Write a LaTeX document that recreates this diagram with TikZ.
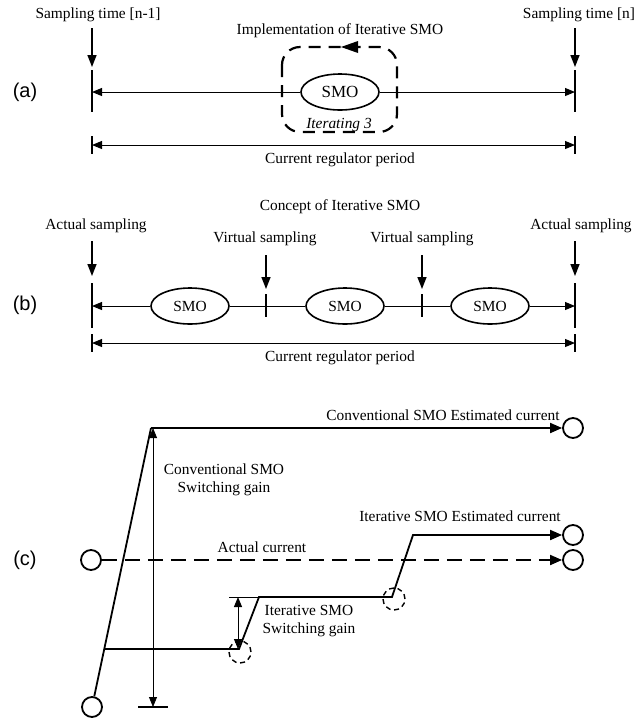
\documentclass[tikz,border=0pt]{standalone}
\usepackage{fontspec}
\setmainfont{Liberation Serif}
\newfontfamily\panelfont{Liberation Sans}
\usetikzlibrary{arrows.meta,positioning,shapes.geometric}

\begin{document}
\begin{tikzpicture}[x=0.5pt, y=-0.5pt,
    every node/.style={font=\fontsize{7.7}{9.2}\selectfont, inner sep=1pt},
    smo/.style={draw, ellipse, line width=0.8pt, inner sep=0pt,
                minimum width=39pt, minimum height=18pt},
    downarrow/.style={-{Triangle[length=6pt, width=4.5pt]}, line width=0.8pt},
    dimarrow/.style={-{Triangle[length=5pt, width=4pt]}, line width=0.5pt},
    bothdim/.style={{Triangle[length=5pt, width=4pt]}-{Triangle[length=5pt, width=4pt]}, line width=0.5pt},
    tick/.style={line width=0.7pt},
    panel/.style={font=\panelfont\fontsize{10}{12}\selectfont},
    term/.style={draw, circle, line width=0.9pt, minimum size=10pt, inner sep=0pt},
    gaincirc/.style={draw, circle, line width=0.7pt, dash pattern=on 2.5pt off 1.8pt,
                     minimum size=11pt, inner sep=0pt},
    curve/.style={line width=0.9pt},
  ]
  \useasboundingbox (0,0) rectangle (642,719);

  % (a) implementation
  \node[panel] (la) at (25,92) {(a)};
  \node (st1) at (98,15) {Sampling time [n-1]};
  \node (st2) at (579,15) {Sampling time [n]};
  \node (impl) at (340,31) {Implementation of Iterative SMO};
  \coordinate (aL) at (92,92);
  \coordinate (aR) at (575,92);
  \node[smo, font=\fontsize{8.5}{10}\selectfont] (smoA) at (340,92) {SMO};
  \draw[dimarrow] (smoA.west) -- (aL);
  \draw[dimarrow] (smoA.east) -- (aR);
  \draw[tick] (aL) ++(0,-22) -- ++(0,42);
  \draw[tick] (aR) ++(0,-22) -- ++(0,42);
  \draw[downarrow] (aL) ++(0,-64) -- ++(0,39);
  \draw[downarrow] (aR) ++(0,-64) -- ++(0,39);
  % iteration loop
  \draw[line width=1.1pt, dash pattern=on 6pt off 4pt, rounded corners=9pt]
    (282,47) rectangle (397,132);
  \fill (358,41) -- (341,47) -- (358,53) -- cycle;
  \node[font=\itshape\fontsize{7.7}{9.2}\selectfont] (iter) at (339,125) {Iterating 3};
  % regulator period
  \coordinate (pL) at (92,145);
  \coordinate (pR) at (575,145);
  \draw[bothdim] (pL) -- (pR);
  \draw[tick] (pL) ++(0,-9) -- ++(0,18);
  \draw[tick] (pR) ++(0,-9) -- ++(0,18);
  \node (per1) at (340,160) {Current regulator period};

  % (b) concept
  \node[panel] (lb) at (25,305) {(b)};
  \node (concept) at (340,207) {Concept of Iterative SMO};
  \node (as1) at (96,226) {Actual sampling};
  \node (as2) at (581,226) {Actual sampling};
  \node (vs1) at (265,239) {Virtual sampling};
  \node (vs2) at (422,239) {Virtual sampling};
  \coordinate (bL) at (92,306);
  \coordinate (bR) at (575,306);
  \coordinate (v1) at (266,306);
  \coordinate (v2) at (422,306);
  \node[smo] (smo1) at (190,306) {SMO};
  \node[smo] (smo2) at (345,306) {SMO};
  \node[smo] (smo3) at (490,306) {SMO};
  \draw[dimarrow] (smo1.west) -- (bL);
  \draw[line width=0.5pt] (smo1.east) -- (smo2.west);
  \draw[line width=0.5pt] (smo2.east) -- (smo3.west);
  \draw[dimarrow] (smo3.east) -- (bR);
  \draw[tick] (bL) ++(0,-23) -- ++(0,45);
  \draw[tick] (bR) ++(0,-23) -- ++(0,45);
  \draw[tick] (v1) ++(0,-12) -- ++(0,23);
  \draw[tick] (v2) ++(0,-12) -- ++(0,23);
  \draw[downarrow] (bL) ++(0,-65) -- ++(0,35);
  \draw[downarrow] (bR) ++(0,-65) -- ++(0,35);
  \draw[downarrow] (v1) ++(0,-51) -- ++(0,34);
  \draw[downarrow] (v2) ++(0,-51) -- ++(0,34);
  \coordinate (qL) at (92,343);
  \coordinate (qR) at (575,343);
  \draw[bothdim] (qL) -- (qR);
  \draw[tick] (qL) ++(0,-9) -- ++(0,18);
  \draw[tick] (qR) ++(0,-9) -- ++(0,18);
  \node (per2) at (340,358) {Current regulator period};

  % (c) estimated currents
  \node[panel] (lc) at (25,560) {(c)};
  \node[term] (c0) at (92,707) {};
  \coordinate (ctop) at (151,428);
  \node[term] (cEnd) at (573,428) {};
  \draw[curve] (c0) -- (ctop);
  \path (c0.center) -- (ctop) coordinate[pos=0.208] (i1);
  \draw[curve, -{Triangle[length=6pt, width=5pt]}] (ctop) -- (cEnd);
  \node (convEst) at (443,415) {Conventional SMO Estimated current};
  % conventional switching gain
  \coordinate (gBot) at (153,707);
  \draw[bothdim, line width=0.4pt] (gBot) -- (gBot |- ctop);
  \draw[tick] (gBot) ++(-15,0) -- ++(30,0);
  \node[align=center] (convGain) at (224,480) {Conventional SMO\\Switching gain};
  % actual current
  \node[term] (a0) at (91,560) {};
  \node[term] (a1) at (573,560) {};
  \draw[curve, dash pattern=on 7.5pt off 4pt, -{Triangle[length=6pt, width=5pt]}] (a0) -- (a1);
  \node (act) at (262,547) {Actual current};
  % iterative SMO
  \coordinate (i2) at (239,649);
  \coordinate (i3) at (259,597);
  \coordinate (i4) at (392,597);
  \coordinate (i5) at (413,535);
  \node[term] (iEnd) at (573,535) {};
  \draw[curve, -{Triangle[length=6pt, width=5pt]}]
    (i1) -- (i2) -- (i3) -- (i4) -- (i5) -- (iEnd);
  \node (itEst) at (460,516) {Iterative SMO Estimated current};
  % iterative switching gain
  \coordinate (hTop) at (229,597);
  \coordinate (hA) at (238,597);
  \coordinate (hB) at (238,649);
  \draw[line width=0.5pt] (hTop) -- (i3);
  \draw[bothdim] (hA) -- (hB);
  \node[align=center] (itGain) at (309,621) {Iterative SMO\\Switching gain};
  \node[gaincirc] (dc1) at (240,652) {};
  \node[gaincirc] (dc2) at (394,599) {};
\end{tikzpicture}
\end{document}
